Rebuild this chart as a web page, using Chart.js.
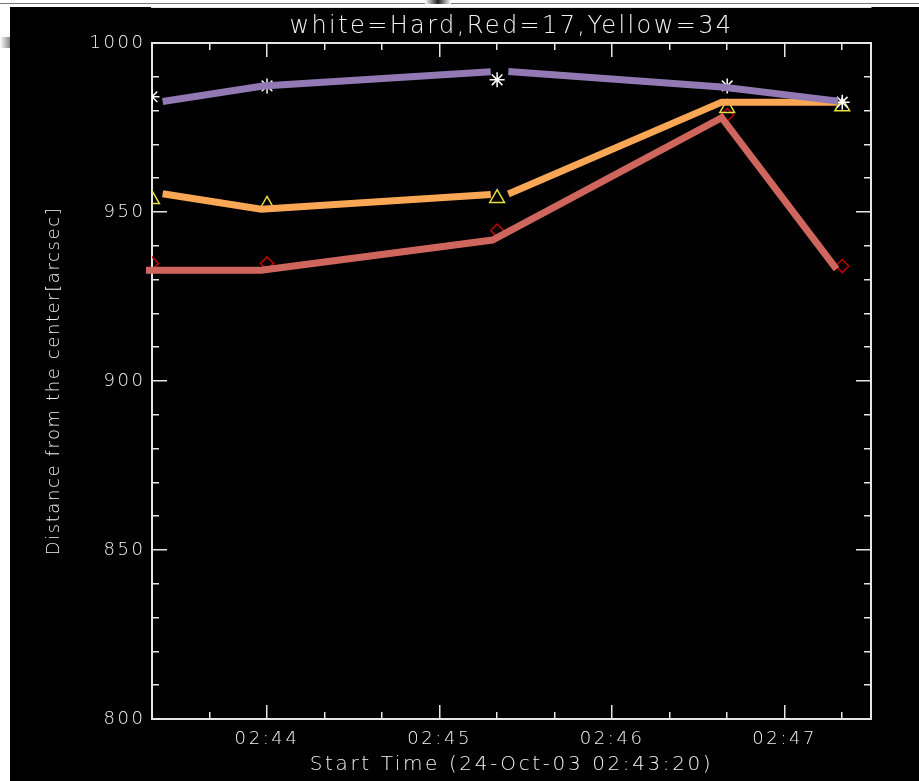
<!DOCTYPE html>
<html>
<head>
<meta charset="utf-8">
<title>Distance from the center</title>
<script src="https://cdn.jsdelivr.net/npm/chart.js@4.4.1/dist/chart.umd.min.js"></script>
<style>
  html, body { margin: 0; padding: 0; background: #fff; width: 919px; height: 781px; overflow: hidden; }
  #rule { position: absolute; left: 0; top: 3px; width: 919px; height: 1px; background: #777; }
  #nub { position: absolute; left: 425px; top: 0; width: 26px; height: 4px; background: linear-gradient(to right, #fff, #222, #fff); }
  #tab { position: absolute; left: 0; top: 37px; width: 10px; height: 11px; background: linear-gradient(to right, #fff, #888); }
  #plot { position: absolute; left: 10px; top: 7px; width: 909px; height: 774px; background: #000; }
</style>
</head>
<body>
<div id="rule"></div><div id="nub"></div><div id="tab"></div>
<div id="plot"><canvas id="mycanvas"></canvas></div>
<script>
// time in seconds after 02:43:20 (24-Oct-03)
var obsTime = [0, 40, 120, 200, 240];
var hardDist = [984.1, 987.3, 989.1, 987.3, 982.5];
var red17Dist = [934.8, 934.8, 944.5, 978.7, 934.0];
var yellow34Dist = [953.8, 952.1, 954.1, 980.7, 981.2];

// thick traces laid over the symbols (null = break in the trace)
var hardTraceTime = [3.7, 38.6, 117.8, 120.8, 123.9, 198.1, 238.6];
var hardTraceDist = [982.7, 987.3, 991.5, null, 991.6, 987.0, 982.8];
var yellowTraceTime = [3.7, 38.0, 117.8, 120.8, 123.9, 198.1, 238.4];
var yellowTraceDist = [955.4, 950.8, 955.2, null, 955.3, 982.5, 982.5];
var redTraceTime = [-2.1, 38.0, 118.4, 198.1, 238.0];
var redTraceDist = [932.8, 932.8, 941.7, 977.9, 933.1];

var timeTicks = [40, 100, 160, 220];
var timeLabels = ['02:44', '02:45', '02:46', '02:47'];
var timeMinor = [20, 60, 80, 120, 140, 180, 200, 240];
var distTicks = [800, 850, 900, 950, 1000];
var distMinor = [810, 820, 830, 840, 860, 870, 880, 890, 910, 920, 930, 940, 960, 970, 980, 990];

var titleText = 'white=Hard,Red=17,Yellow=34';
var fg = '#f2f2f2';
var family = '"DejaVu Sans", sans-serif';

function pairs(xs, ys) {
  return xs.map(function (x, i) { return { x: x, y: ys[i] }; });
}

// one axis of tick marks pointing into the plot box
function tickAxis(pos, min, max, at, len, size, weight) {
  var horiz = pos === 'top' || pos === 'bottom';
  return {
    type: 'linear',
    position: pos,
    min: min,
    max: max,
    weight: weight,
    afterBuildTicks: function (scale) {
      scale.ticks = at.map(function (v) { return { value: v }; });
    },
    afterFit: function (scale) {
      if (horiz) scale.height = size; else scale.width = size;
    },
    grid: { display: true, drawOnChartArea: false, drawTicks: true, tickLength: -len, color: '#e6e6e6', lineWidth: 1.5 },
    border: { display: true, color: '#e6e6e6', width: 2 },
    ticks: { display: false, autoSkip: false }
  };
}

// x labels/title and y labels go on the z=1 layer, drawn after the datasets
var xMain = tickAxis('bottom', 0, 250, timeTicks, 14, 62, 1);
xMain.grid.z = 1;
xMain.ticks = {
  display: true, autoSkip: false, maxRotation: 0, padding: 24, color: fg, z: 1,
  font: { family: family, size: 18, weight: 200 },
  callback: function (v, i) { return timeLabels[i]; }
};
xMain.title = {
  display: true, text: 'Start Time (24-Oct-03 02:43:20)', color: fg,
  font: { family: family, size: 20, weight: 200 }, padding: { top: 0, bottom: 4 }
};

var yMain = tickAxis('left', 800, 1000, distTicks, 15, 142, 1);
yMain.ticks = {
  display: true, autoSkip: false, padding: 21.4, color: fg, z: 1,
  font: { family: family, size: 18, weight: 200 },
  callback: function (v) { return String(v); }
};
yMain.title = {
  display: true, text: 'Distance from the center[arcsec]', color: fg,
  font: { family: family, size: 18, weight: 200 }, padding: { top: 34, bottom: 0 }
};

// the wide stroke font: spacing per text group
var spacing = {
  id: 'spacing',
  beforeDraw: function (chart) { chart.ctx.letterSpacing = '1.6px'; },
  afterDatasetsDraw: function (chart) { chart.ctx.letterSpacing = '2.6px'; },
  afterDraw: function (chart) {
    var ctx = chart.ctx, a = chart.chartArea;
    ctx.save();
    ctx.letterSpacing = '2.4px';
    ctx.fillStyle = fg;
    ctx.font = '200 24px ' + family;
    ctx.textAlign = 'center';
    ctx.textBaseline = 'middle';
    ctx.fillText(titleText, (a.left + a.right) / 2, 20);
    ctx.restore();
    ctx.letterSpacing = '0px';
  }
};

function trace(xs, ys, color) {
  return {
    type: 'line', data: pairs(xs, ys), borderColor: color, borderWidth: 7,
    borderCapStyle: 'butt', pointRadius: 0, tension: 0, spanGaps: false,
    clip: false, order: 0
  };
}

function symbols(ys, style, color, radius) {
  return {
    type: 'line', data: pairs(obsTime, ys), showLine: false,
    pointStyle: style, pointRadius: radius, pointBorderColor: color,
    pointBackgroundColor: 'rgba(0,0,0,0)', pointBorderWidth: 1.5,
    clip: 0, order: 1
  };
}

var ctx = document.getElementById('mycanvas');

var chart = new Chart(ctx, {
  type: 'line',
  data: {
    datasets: [
      trace(hardTraceTime, hardTraceDist, '#9279b3'),
      trace(yellowTraceTime, yellowTraceDist, '#f9a655'),
      trace(redTraceTime, redTraceDist, '#cf665e'),
      symbols(hardDist, 'star', '#ffffff', 7.5),
      symbols(yellow34Dist, 'triangle', '#e8e04a', 8.5),
      symbols(red17Dist, 'rectRot', '#c00000', 6.5)
    ]
  },
  options: {
    responsive: true,
    maintainAspectRatio: false,
    animation: false,
    layout: { padding: { top: 36, right: 0, bottom: 0, left: 0 } },
    plugins: { legend: { display: false }, tooltip: { enabled: false }, title: { display: false } },
    scales: {
      x: xMain,
      xMinor: tickAxis('bottom', 0, 250, timeMinor, 7, 0, 0),
      xTop: tickAxis('top', 0, 250, timeTicks, 14, 0, 1),
      xTopMinor: tickAxis('top', 0, 250, timeMinor, 7, 0, 0),
      y: yMain,
      yMinor: tickAxis('left', 800, 1000, distMinor, 7, 0, 0),
      yRight: tickAxis('right', 800, 1000, distTicks, 15, 48, 1),
      yRightMinor: tickAxis('right', 800, 1000, distMinor, 7, 0, 0)
    }
  },
  plugins: [spacing]
});
</script>
</body>
</html>
